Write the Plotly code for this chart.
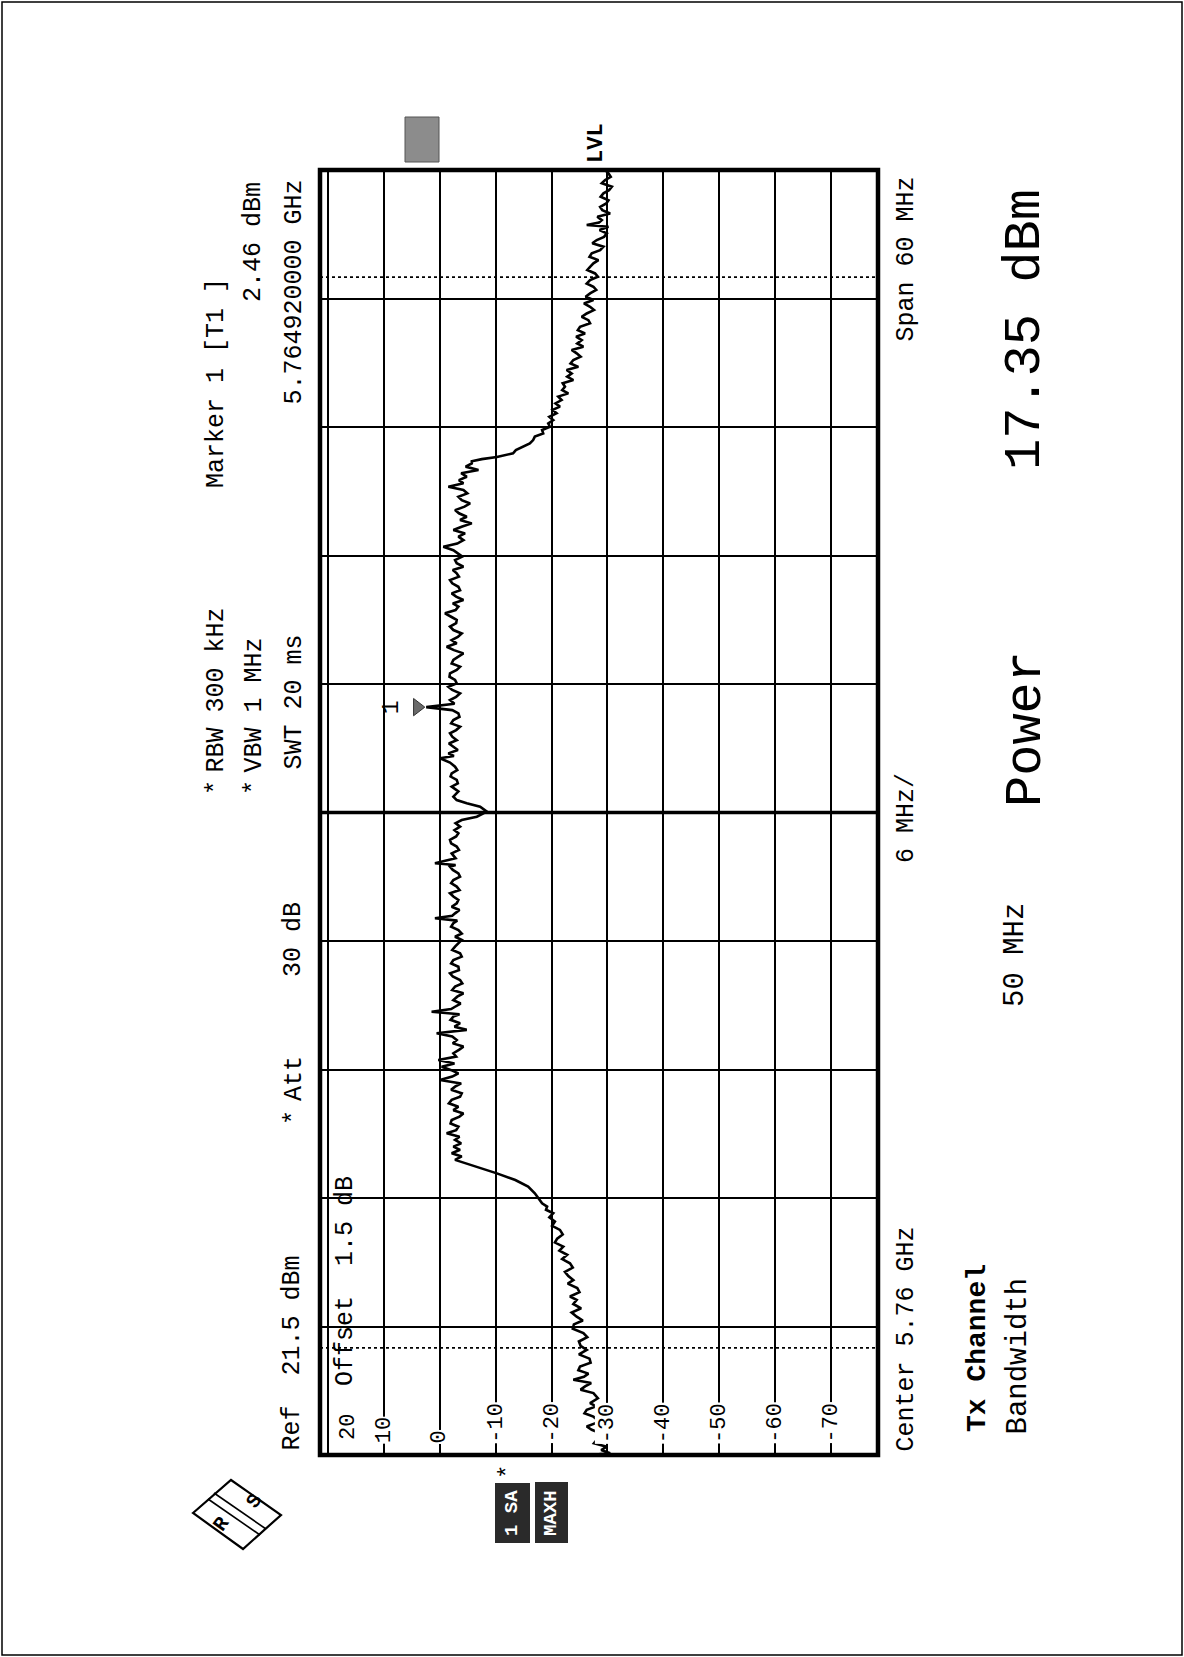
import plotly.graph_objects as go

W, H = 1184, 1657

# ---------------- instrument settings / readings ----------------
center_ghz = 5.76
span_mhz = 60
ref_level_dbm = 21.5
db_per_div = 10
channel_bw_mhz = 50
marker_freq_ghz = 5.76492
marker_level_dbm = 2.46
channel_power_dbm = 17.35

# ---------------- trace ----------------
freq_offset_mhz = [
    -30.00, -29.96, -29.92, -29.77, -29.61, -29.45, -29.29, -29.14, -28.98, -28.82,
    -28.67, -28.44, -28.21, -28.05, -27.89, -27.73, -27.58, -27.35, -27.11, -26.95,
    -26.80, -26.64, -26.49, -26.35, -26.20, -26.04, -25.87, -25.69, -25.50, -25.30,
    -25.09, -24.90, -24.70, -24.50, -24.31, -24.10, -23.90, -23.72, -23.54, -23.35,
    -23.15, -22.95, -22.76, -22.60, -22.40, -22.20, -22.00, -21.83, -21.64, -21.45,
    -21.25, -21.05, -20.85, -20.65, -20.46, -20.27, -20.08, -19.90, -19.70, -19.49,
    -19.30, -19.10, -18.90, -18.71, -18.55, -18.40, -18.25, -18.09, -17.78, -17.47,
    -17.16, -16.85, -16.54, -16.38, -16.22, -16.06, -15.91, -15.75, -15.60, -15.45,
    -15.29, -15.14, -14.98, -14.83, -14.67, -14.52, -14.36, -14.20, -14.05, -13.90,
    -13.74, -13.58, -13.42, -13.27, -13.11, -12.95, -12.80, -12.65, -12.49, -12.33,
    -12.18, -12.02, -11.87, -11.72, -11.56, -11.40, -11.24, -11.08, -10.93, -10.78,
    -10.62, -10.46, -10.31, -10.15, -10.00, -9.84, -9.68, -9.53, -9.42, -9.30,
    -9.18, -9.07, -8.92, -8.76, -8.60, -8.44, -8.29, -8.13, -7.98, -7.82,
    -7.66, -7.51, -7.36, -7.20, -7.05, -6.89, -6.73, -6.57, -6.42, -6.26,
    -6.10, -5.95, -5.80, -5.65, -5.49, -5.33, -5.17, -5.05, -4.94, -4.82,
    -4.71, -4.55, -4.40, -4.24, -4.08, -3.92, -3.77, -3.62, -3.46, -3.30,
    -3.15, -3.00, -2.84, -2.68, -2.53, -2.45, -2.37, -2.14, -1.91, -1.75,
    -1.59, -1.44, -1.28, -1.12, -0.97, -0.82, -0.66, -0.50, -0.35, -0.20,
    0.04, 0.27, 0.43, 0.58, 0.74, 0.98, 1.21, 1.36, 1.52, 1.68,
    1.83, 1.98, 2.14, 2.33, 2.53, 2.64, 2.76, 2.92, 3.07, 3.22,
    3.38, 3.54, 3.70, 3.85, 4.01, 4.16, 4.32, 4.47, 4.63, 4.78,
    4.92, 5.08, 5.25, 5.40, 5.56, 5.72, 5.87, 6.03, 6.19, 6.34,
    6.50, 6.66, 6.81, 6.96, 7.12, 7.28, 7.43, 7.58, 7.74, 7.90,
    8.05, 8.20, 8.36, 8.52, 8.68, 8.84, 8.99, 9.14, 9.30, 9.45,
    9.61, 9.76, 9.92, 10.08, 10.23, 10.38, 10.54, 10.70, 10.85, 11.01,
    11.17, 11.32, 11.48, 11.64, 11.79, 11.95, 12.10, 12.25, 12.41, 12.56,
    12.72, 12.88, 13.03, 13.19, 13.35, 13.50, 13.66, 13.81, 13.97, 14.12,
    14.28, 14.43, 14.58, 14.74, 14.90, 15.06, 15.21, 15.37, 15.52, 15.68,
    15.84, 15.99, 16.15, 16.30, 16.40, 16.50, 16.60, 16.77, 16.92, 17.08,
    17.23, 17.39, 17.55, 17.70, 17.86, 18.01, 18.17, 18.32, 18.48, 18.64,
    18.80, 18.95, 19.10, 19.26, 19.42, 19.57, 19.72, 19.88, 20.04, 20.19,
    20.35, 20.50, 20.66, 20.81, 20.97, 21.13, 21.28, 21.44, 21.60, 21.75,
    21.90, 22.06, 22.22, 22.37, 22.52, 22.68, 22.84, 22.99, 23.14, 23.30,
    23.46, 23.61, 23.77, 23.93, 24.08, 24.24, 24.40, 24.55, 24.70, 24.86,
    25.02, 25.17, 25.33, 25.48, 25.64, 25.79, 25.95, 26.11, 26.26, 26.42,
    26.58, 26.73, 26.88, 27.04, 27.20, 27.35, 27.43, 27.55, 27.66, 27.82,
    27.97, 28.12, 28.28, 28.44, 28.59, 28.75, 28.91, 29.06, 29.22, 29.38,
    29.53, 29.68, 29.84, 30.00,
]
level_dbm = [
    -29.8, -28.6, -30.5, -28.9, -29.9, -27.6, -28.1, -29.6, -28.7, -27.2,
    -26.3, -28.6, -27.5, -25.9, -26.3, -28.0, -26.9, -28.3, -27.5, -25.2,
    -26.0, -27.1, -23.9, -25.8, -26.6, -24.8, -25.1, -27.0, -26.8, -24.9,
    -26.3, -25.2, -24.9, -26.4, -25.7, -23.8, -24.0, -25.6, -24.5, -23.6,
    -25.3, -23.9, -24.5, -23.3, -25.0, -24.6, -22.9, -23.9, -23.0, -22.4,
    -23.8, -23.3, -21.9, -22.8, -21.4, -22.1, -20.6, -21.0, -22.0, -21.5,
    -20.1, -20.6, -19.6, -20.3, -19.0, -19.2, -18.3, -17.8, -17.0, -15.8,
    -13.5, -10.2, -6.6, -4.8, -2.7, -3.9, -2.1, -3.6, -2.4, -3.8,
    -2.7, -3.5, -1.2, -2.9, -3.3, -1.9, -2.1, -3.5, -4.2, -2.4,
    -3.3, -1.6, -2.1, -3.6, -3.9, -2.0, -2.7, -3.8, 0.0, -2.2,
    -3.3, -1.9, -0.3, -2.6, 0.3, -2.9, -2.4, -3.4, -4.2, -2.3,
    -3.0, -2.2, 0.6, -4.8, -2.6, -3.6, -1.9, -2.4, -3.5, 1.5,
    -2.0, -2.7, -3.7, -2.4, -3.1, -4.2, -2.2, -2.7, -4.0, -3.6,
    -2.3, -1.8, -3.4, -3.3, -2.0, -2.4, -3.9, -3.6, -2.2, -2.7,
    -3.3, -3.9, -2.7, -3.9, -3.3, -2.0, -2.4, -3.1, 0.9, -2.2,
    -2.7, -3.5, -2.1, -3.0, -3.3, -2.4, -1.8, -3.5, -3.0, -2.0,
    -2.4, -3.6, -3.3, -2.3, -1.8, -2.8, 0.9, -2.8, -2.1, -3.4,
    -3.0, -2.0, -1.8, -2.9, -3.3, -2.6, -3.6, -2.8, -3.9, -6.6,
    -8.4, -7.2, -4.8, -3.0, -2.4, -3.3, -2.1, -3.2, -3.0, -1.9,
    -2.1, -3.1, -2.7, -1.8, 0.0, -2.5, -1.5, -3.2, -2.4, -1.6,
    -3.0, -2.2, -1.8, -2.9, -3.6, -2.0, -2.4, -3.5, -3.3, -2.2,
    2.46, -2.6, -1.8, -2.9, -3.6, -2.2, -1.5, -3.0, -2.7, -1.7,
    -1.8, -3.0, -3.6, -2.1, -2.4, -3.4, -4.2, -2.5, -1.2, -3.0,
    -2.1, -3.2, -3.9, -2.4, -1.8, -2.9, -3.0, -2.0, -0.9, -2.8,
    -3.3, -2.3, -4.2, -2.9, -2.1, -3.6, -3.3, -2.2, -1.8, -3.4,
    -3.0, -2.3, -4.2, -3.0, -2.7, -4.0, -3.3, -2.4, -0.6, -3.1,
    -4.2, -3.3, -4.5, -2.4, -4.0, -5.7, -3.6, -4.8, -3.4, -2.7,
    -4.4, -5.4, -3.9, -3.3, -4.9, -4.2, -1.5, -4.2, -3.4, -4.8,
    -3.8, -6.9, -4.6, -5.7, -5.7, -7.5, -10.2, -13.1, -13.6, -14.9,
    -16.1, -16.7, -17.0, -18.5, -18.3, -19.7, -19.4, -20.3, -19.6, -20.9,
    -20.2, -21.5, -20.7, -21.8, -21.2, -23.0, -21.9, -22.4, -22.0, -23.9,
    -22.8, -23.6, -22.7, -24.8, -23.4, -23.9, -25.2, -24.5, -23.6, -25.7,
    -24.6, -25.4, -24.4, -26.0, -24.7, -25.1, -26.9, -26.6, -25.4, -26.3,
    -27.6, -26.9, -25.8, -27.5, -26.1, -26.9, -28.0, -27.5, -26.3, -26.9,
    -28.3, -27.8, -26.4, -26.9, -27.5, -28.4, -26.8, -27.2, -28.7, -29.3,
    -27.3, -28.1, -29.4, -29.9, -28.6, -30.2, -26.3, -28.5, -29.0, -28.2,
    -30.5, -29.1, -28.7, -29.8, -30.2, -28.8, -29.3, -30.3, -30.8, -29.0,
    -29.6, -30.6, -30.2, -29.6,
]

level_tick_values = [20, 10, 0, -10, -20, -30, -40, -50, -60, -70]
level_tick_labels = ["20", "10", "0", "-10", "-20", "-30", "-40", "-50", "-60", "-70"]

# ---------------- layout helpers (pixel -> paper) ----------------
PLOT_L, PLOT_R, PLOT_T, PLOT_B = 320, 878, 170, 1455
FONT = "Liberation Mono"


def px(xp):
    return xp / W


def py(yp):
    return 1 - yp / H


level_min = ref_level_dbm - 10 * db_per_div
half_span = span_mhz / 2
marker_off_mhz = (marker_freq_ghz - center_ghz) * 1000

fig = go.Figure()

fig.add_trace(go.Scatter(
    x=level_dbm, y=freq_offset_mhz, mode="lines",
    line=dict(color="black", width=2.6), hoverinfo="skip", showlegend=False,
))

# marker triangle (sits just above the trace point, i.e. to the left)
fig.add_trace(go.Scatter(
    x=[marker_level_dbm + 1.6], y=[marker_off_mhz], mode="markers",
    marker=dict(symbol="triangle-right", size=15, color="#6a6a6a",
                line=dict(color="#333", width=1)),
    hoverinfo="skip", showlegend=False,
))

fig.update_layout(
    width=W, height=H,
    margin=dict(l=0, r=0, t=0, b=0),
    paper_bgcolor="white", plot_bgcolor="white",
    showlegend=False,
    xaxis=dict(
        domain=[px(PLOT_L), px(PLOT_R)],
        range=[ref_level_dbm, level_min],
        tick0=20, dtick=db_per_div,
        showgrid=True, gridcolor="black", gridwidth=1.6,
        showticklabels=False, ticks="", zeroline=False, showline=False,
        fixedrange=True,
    ),
    yaxis=dict(
        domain=[py(PLOT_B), py(PLOT_T)],
        range=[-half_span, half_span],
        tick0=-half_span, dtick=span_mhz / 10,
        showgrid=True, gridcolor="black", gridwidth=1.6,
        showticklabels=False, ticks="", zeroline=False, showline=False,
        fixedrange=True,
    ),
)

shapes = []
# plot frame
shapes.append(dict(type="rect", xref="x domain", yref="y domain", x0=0, x1=1, y0=0, y1=1,
                   line=dict(color="black", width=4.5), layer="above"))
# center frequency line
shapes.append(dict(type="line", xref="x domain", yref="y", x0=0, x1=1, y0=0, y1=0,
                   line=dict(color="black", width=3.5), layer="above"))
# channel bandwidth limits
for edge in (-channel_bw_mhz / 2, channel_bw_mhz / 2):
    shapes.append(dict(type="line", xref="x domain", yref="y", x0=0, x1=1, y0=edge, y1=edge,
                       line=dict(color="black", width=1.6, dash="dot"), layer="below"))
# page border
shapes.append(dict(type="rect", xref="paper", yref="paper", x0=px(2), x1=px(1182),
                   y0=py(1655), y1=py(2), line=dict(color="black", width=1.5)))
# trace-status boxes
shapes.append(dict(type="rect", xref="paper", yref="paper", x0=px(495), x1=px(530),
                   y0=py(1543), y1=py(1483), fillcolor="#2a2a2a", line=dict(width=0)))
shapes.append(dict(type="rect", xref="paper", yref="paper", x0=px(535), x1=px(568),
                   y0=py(1543), y1=py(1482), fillcolor="#2a2a2a", line=dict(width=0)))
# grey indicator box above plot
shapes.append(dict(type="rect", xref="paper", yref="paper", x0=px(405), x1=px(439),
                   y0=py(162), y1=py(117), fillcolor="#8c8c8c", line=dict(color="#555", width=1)))


def pathp(pts, close=True):
    s = "M " + " L ".join(f"{px(a):.5f},{py(b):.5f}" for a, b in pts)
    return s + (" Z" if close else "")


# R&S logo
shapes.append(dict(type="path", xref="paper", yref="paper",
                   path=pathp([(193, 1513), (231, 1480), (281, 1515), (243, 1549)]),
                   line=dict(color="black", width=2.2), fillcolor="white"))
for d in (-3, 3):
    shapes.append(dict(type="path", xref="paper", yref="paper",
                       path=pathp([(211 + d, 1496 - d), (263 + d, 1532 - d)], close=False),
                       line=dict(color="black", width=1.6)))
fig.update_layout(shapes=shapes)

ann = []


def rot(text, xp, yp, size, yanchor="middle", bold=False, color="black", bg=None, angle=-90):
    d = dict(text=f"<b>{text}</b>" if bold else text, xref="paper", yref="paper",
             x=px(xp), y=py(yp), xanchor="center", yanchor=yanchor, showarrow=False,
             textangle=angle, font=dict(family=FONT, size=size, color=color))
    if bg:
        d["bgcolor"] = bg
    ann.append(d)


# header texts
rot("Ref  21.5 dBm", 292, 1453, 25, "bottom")
rot("*", 294, 1118, 25)
rot("Att", 294, 1079, 25)
rot("30 dB", 294, 940, 25)
rot("*", 216, 788, 25)
rot("RBW 300 kHz", 216, 775, 25, "bottom")
rot("*", 254, 788, 25)
rot("VBW 1 MHz", 254, 775, 25, "bottom")
rot("SWT 20 ms", 294, 772, 25, "bottom")
rot("Marker 1 [T1 ]", 216, 490, 25, "bottom")
rot(f"{marker_level_dbm:.2f} dBm", 254, 180, 25, "top")
rot(f"{marker_freq_ghz:.9f} GHz", 294, 178, 25, "top")
rot("LVL", 597, 165, 22, "bottom", bold=True)

# inside-plot texts
rot("Offset  1.5 dB", 345, 1388, 25, "bottom")

# level labels
for v, lab in zip(level_tick_values, level_tick_labels):
    if v == 20:
        rot(lab, 348, 1442, 22, "bottom")
    else:
        ann.append(dict(text=lab, xref="x", yref="paper", x=v, y=py(1444),
                        xanchor="center", yanchor="bottom", showarrow=False, textangle=-90,
                        bgcolor="white", borderpad=0,
                        font=dict(family=FONT, size=22, color="black")))

# marker label "1"
ann.append(dict(text="1", xref="x", yref="y", x=marker_level_dbm, y=marker_off_mhz,
                xshift=-34, showarrow=False, textangle=-90,
                font=dict(family=FONT, size=23, color="black")))

# footer texts
rot(f"Center {center_ghz:.2f} GHz", 906, 1454, 25, "bottom")
rot(f"{span_mhz / 10:.0f} MHz/", 906, 818, 25)
rot(f"Span {span_mhz:.0f} MHz", 906, 175, 25, "top")

rot("Tx Channel", 977, 1434, 28, "bottom", bold=True)
rot("Bandwidth", 1018, 1437, 29, "bottom")
rot(f"{channel_bw_mhz:.0f} MHz", 1015, 955, 29)
rot("Power", 1026, 729, 52)
rot(f"{channel_power_dbm:.2f} dBm", 1026, 330, 52)

# left status boxes and logo letters
rot("*", 508, 1472, 24)
rot("1 SA", 512, 1513, 19, bold=True, color="white")
rot("MAXH", 551, 1513, 19, bold=True, color="white")
rot("R", 221, 1524, 20, bold=True, angle=-55)
rot("S", 254, 1501, 20, bold=True, angle=-55)

fig.update_layout(annotations=ann)

fig.write_html("out.html", config={"displayModeBar": False},
               post_script="document.body.style.margin='0';document.body.style.overflow='hidden';")
